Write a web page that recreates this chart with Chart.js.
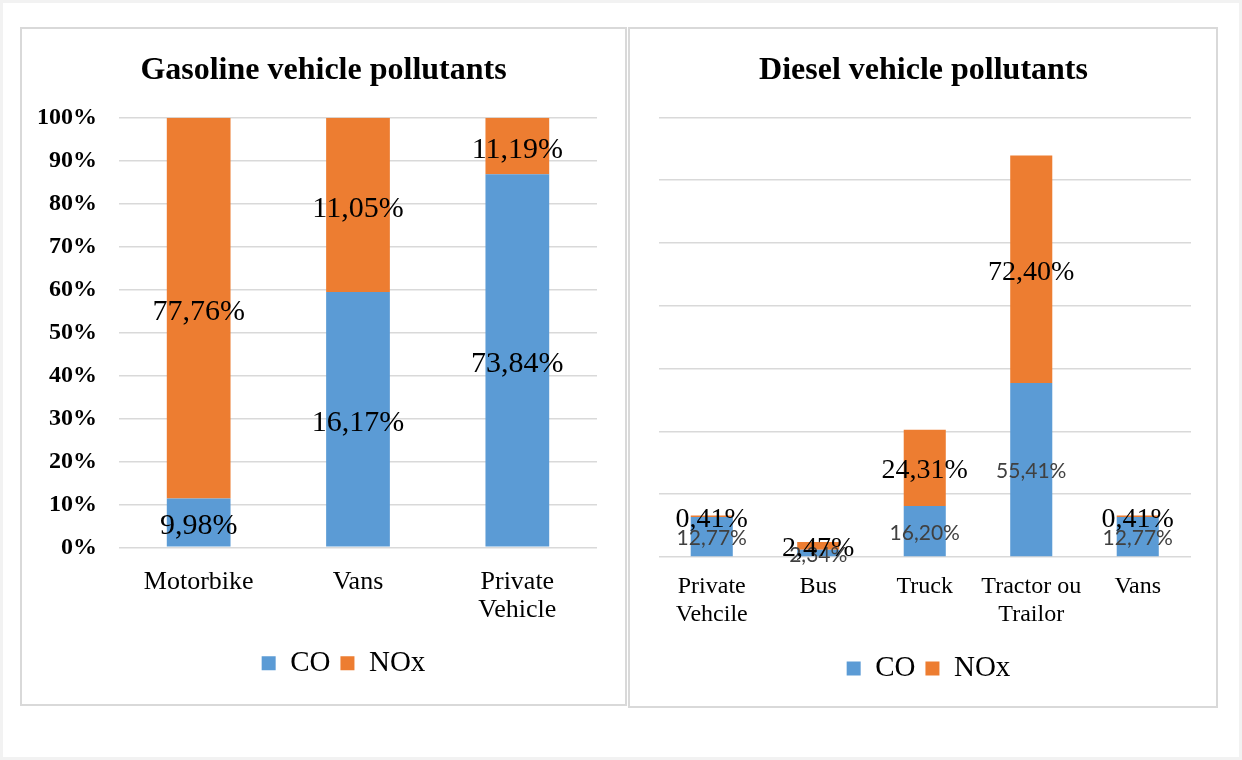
<!DOCTYPE html>
<html>
<head>
<meta charset="utf-8">
<script src="https://cdn.jsdelivr.net/npm/chart.js@4.4.1/dist/chart.umd.min.js"></script>
<style>
  html, body { margin: 0; padding: 0; background: #fff; }
  body { width: 1242px; height: 760px; position: relative; overflow: hidden; }
  .frame { position: absolute; left: 0; top: 0; width: 1242px; height: 760px;
           box-sizing: border-box; border: 3px solid #f2f2f2; }
  .panel { position: absolute; box-sizing: border-box; border: 2px solid #d9d9d9; background: #fff; }
  #gasPanel { left: 20px; top: 27px; width: 607px; height: 679px; }
  #dieselPanel { left: 628px; top: 27px; width: 590px; height: 681px; }
  canvas { position: absolute; left: 0; top: 0; }
</style>
</head>
<body>
<div class="frame"></div>
<div class="panel" id="gasPanel"><canvas id="gasChart" width="603" height="675"></canvas></div>
<div class="panel" id="dieselPanel"><canvas id="dieselChart" width="586" height="677"></canvas></div>
<script>
// Gasoline chart data (labels show raw shares, bars are stacked to 100%)
var gasCategories = ['Motorbike', 'Vans', ['Private', 'Vehicle']];
var gasCO = [9.98, 16.17, 73.84];
var gasNOx = [77.76, 11.05, 11.19];
var gasTickLabels = ['0%', '10%', '20%', '30%', '40%', '50%', '60%', '70%', '80%', '90%', '100%'];

// Diesel chart data
var dieselCategories = [['Private', 'Vehcile'], 'Bus', 'Truck', ['Tractor ou', 'Trailor'], 'Vans'];
var dieselCO = [12.77, 2.34, 16.20, 55.41, 12.77];
var dieselNOx = [0.41, 2.47, 24.31, 72.40, 0.41];

var seriesNames = ['CO', 'NOx'];
var BLUE = '#5B9BD5';
var ORANGE = '#ED7D31';
var SERIF = '"Liberation Serif", "Times New Roman", serif';

function fmt(v) {
    return v.toFixed(2).replace('.', ',') + '%';
}

function toShare(a, b) {
    return a.map(function(v, i) { return v / (v + b[i]) * 100; });
}

// Draws each segment's value in the middle of the segment
var barLabels = {
    id: 'barLabels',
    afterDatasetsDraw: function(chart) {
        var ctx = chart.ctx;
        chart.data.datasets.forEach(function(ds, di) {
            var meta = chart.getDatasetMeta(di);
            if (meta.hidden) return;
            ctx.save();
            ctx.font = ds.labelFont;
            ctx.fillStyle = ds.labelColor;
            ctx.textAlign = 'center';
            ctx.textBaseline = 'middle';
            meta.data.forEach(function(bar, i) {
                var p = bar.getProps(['x', 'y', 'base'], true);
                ctx.fillText(fmt(ds.rawValues[i]), p.x, (p.y + p.base) / 2 + ds.labelDy);
            });
            ctx.restore();
        });
    }
};

// Nudges title and legend sideways (Excel centers them differently)
var boxShift = {
    id: 'boxShift',
    afterLayout: function(chart, args, opts) {
        if (chart.titleBlock && opts.titleDx) {
            chart.titleBlock.left += opts.titleDx;
            chart.titleBlock.right += opts.titleDx;
        }
        if (chart.legend && opts.legendDx) {
            chart.legend.left += opts.legendDx;
            chart.legend.right += opts.legendDx;
        }
    }
};

function baseOptions(cfg) {
    return {
        responsive: false,
        animation: false,
        devicePixelRatio: 1,
        layout: { padding: { left: 0, right: cfg.padRight, top: 0, bottom: cfg.padBottom } },
        plugins: {
            tooltip: { enabled: false },
            title: {
                display: true,
                text: cfg.title,
                color: '#000',
                font: { family: SERIF, size: 32, weight: 'bold', lineHeight: 1.2 },
                padding: { top: 23, bottom: cfg.titleBottom }
            },
            legend: {
                position: 'bottom',
                labels: {
                    boxWidth: 14,
                    boxHeight: 14,
                    padding: 10,
                    color: '#000',
                    font: { family: SERIF, size: 29 }
                }
            },
            boxShift: { titleDx: cfg.titleDx, legendDx: cfg.legendDx }
        },
        scales: {
            x: {
                stacked: true,
                grid: { display: false },
                border: { display: false },
                ticks: {
                    color: '#000',
                    autoSkip: false,
                    maxRotation: 0,
                    padding: cfg.xPad,
                    font: { family: SERIF, size: cfg.xFont, lineHeight: cfg.xLine }
                },
                afterFit: function(s) { s.height = cfg.xHeight; }
            },
            y: {
                stacked: true,
                min: 0,
                max: cfg.yMax,
                grid: { color: '#d9d9d9', lineWidth: 1.5, drawTicks: false },
                border: { display: false },
                ticks: cfg.yTicks,
                afterFit: function(s) { s.width = cfg.yWidth; }
            }
        }
    };
}

new Chart(document.getElementById('gasChart'), {
    type: 'bar',
    data: {
        labels: gasCategories,
        datasets: [
            { label: seriesNames[0], data: toShare(gasCO, gasNOx), rawValues: gasCO,
              backgroundColor: BLUE, categoryPercentage: 1, barPercentage: 0.4,
              labelFont: '30px ' + SERIF, labelColor: '#000', labelDy: 4 },
            { label: seriesNames[1], data: toShare(gasNOx, gasCO), rawValues: gasNOx,
              backgroundColor: ORANGE, categoryPercentage: 1, barPercentage: 0.4,
              labelFont: '30px ' + SERIF, labelColor: '#000', labelDy: 4 }
        ]
    },
    options: baseOptions({
        title: 'Gasoline vehicle pollutants',
        titleBottom: 27.3,
        titleDx: 14,
        padRight: 28,
        padBottom: 16.2,
        legendDx: 34,
        xPad: 12.7,
        xFont: 26,
        xLine: 1.08,
        xHeight: 91.5,
        yMax: 100,
        yWidth: 97,
        yTicks: {
            stepSize: 10,
            padding: 22,
            color: '#000',
            font: { family: SERIF, size: 24, weight: 'bold' },
            callback: function(v, i) { return gasTickLabels[i]; }
        }
    }),
    plugins: [barLabels, boxShift]
});

new Chart(document.getElementById('dieselChart'), {
    type: 'bar',
    data: {
        labels: dieselCategories,
        datasets: [
            { label: seriesNames[0], data: dieselCO, rawValues: dieselCO,
              backgroundColor: BLUE, categoryPercentage: 1, barPercentage: 0.395,
              labelFont: '21px Lato, "Open Sans", sans-serif', labelColor: '#404040', labelDy: 2 },
            { label: seriesNames[1], data: dieselNOx, rawValues: dieselNOx,
              backgroundColor: ORANGE, categoryPercentage: 1, barPercentage: 0.395,
              labelFont: '28px ' + SERIF, labelColor: '#000', labelDy: 3 }
        ]
    },
    options: baseOptions({
        title: 'Diesel vehicle pollutants',
        titleBottom: 26.9,
        titleDx: 13,
        padRight: 25,
        padBottom: 13,
        legendDx: 18,
        xPad: 8,
        xFont: 24,
        xLine: 1.167,
        xHeight: 87,
        yMax: 140,
        yWidth: 28.5,
        yTicks: { stepSize: 20, display: false }
    }),
    plugins: [barLabels, boxShift]
});
</script>
</body>
</html>
